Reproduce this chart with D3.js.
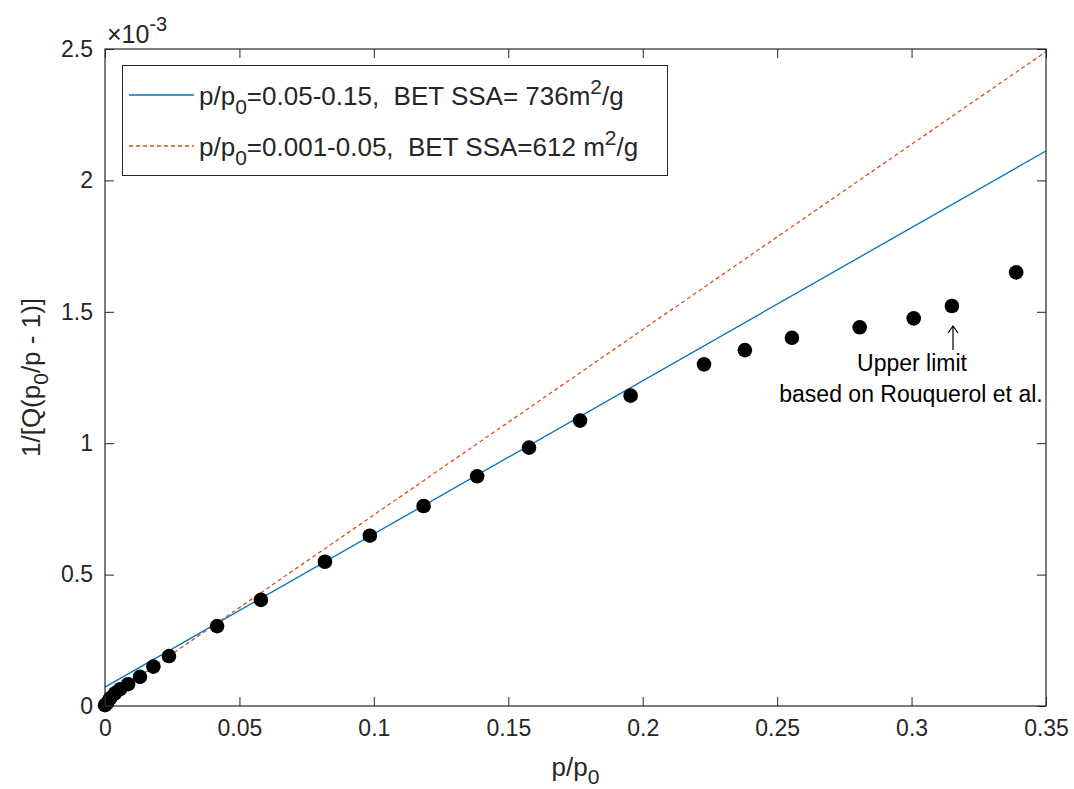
<!DOCTYPE html>
<html>
<head>
<meta charset="utf-8">
<script src="https://cdn.jsdelivr.net/npm/d3@7/dist/d3.min.js"></script>
<style>
  html, body { margin: 0; padding: 0; background: #fff; }
  svg text { font-family: "Liberation Sans", Arial, Helvetica, sans-serif; fill: #262626; }
</style>
</head>
<body>
<svg id="chart" width="1074" height="789"></svg>
<script>
// Relative pressure p/p0 of the measured points
const pressure = [0, 0.0008, 0.0019, 0.0037, 0.0056, 0.0086, 0.013, 0.018, 0.0238,
  0.0417, 0.058, 0.0818, 0.0985, 0.1185, 0.1384, 0.1577, 0.1767, 0.1955,
  0.2228, 0.2380, 0.2555, 0.2807, 0.3008, 0.3150, 0.3389];
// BET transform 1/[Q(p0/p - 1)], in units of 1e-3
const betValue = [0.003, 0.012, 0.029, 0.048, 0.064, 0.083, 0.111, 0.150, 0.190,
  0.304, 0.404, 0.549, 0.648, 0.761, 0.874, 0.983, 1.086, 1.181,
  1.300, 1.354, 1.401, 1.441, 1.475, 1.522, 1.650];

// Linear fits, evaluated at the ends of the x range
const fitPressure = [0, 0.35];
const fitHigh = [0.072, 2.112];   // p/p0 = 0.05-0.15
const fitLow = [0.022, 2.490];    // p/p0 = 0.001-0.05

const xTicks = [0, 0.05, 0.1, 0.15, 0.2, 0.25, 0.3, 0.35];
const xTickLabels = ["0", "0.05", "0.1", "0.15", "0.2", "0.25", "0.3", "0.35"];
const yTicks = [0, 0.5, 1, 1.5, 2, 2.5];
const yTickLabels = ["0", "0.5", "1", "1.5", "2", "2.5"];

const BLUE = "#0072BD", ORANGE = "#D95319", AX = "#262626";
const FS = 23;      // tick labels and annotation
const LFS = 26;     // legend entries

const svg = d3.select("#chart");
const pLeft = 105, pRight = 1046, pTop = 49, pBottom = 706;

const x = d3.scaleLinear().domain([0, 0.35]).range([pLeft, pRight]);
const y = d3.scaleLinear().domain([0, 2.5]).range([pBottom, pTop]);

// Data layer
const plot = svg.append("g");

const line = d3.line().x(d => x(d[0])).y(d => y(d[1]));
plot.append("path")
  .datum(fitPressure.map((p, i) => [p, fitHigh[i]]))
  .attr("d", line).attr("fill", "none")
  .attr("stroke", BLUE).attr("stroke-width", 1.3);
plot.append("path")
  .datum(fitPressure.map((p, i) => [p, fitLow[i]]))
  .attr("d", line).attr("fill", "none")
  .attr("stroke", ORANGE).attr("stroke-width", 1.3)
  .attr("stroke-dasharray", "4,3");

plot.selectAll("circle.pt")
  .data(pressure.map((p, i) => [p, betValue[i]]))
  .join("circle").attr("class", "pt")
  .attr("cx", d => x(d[0])).attr("cy", d => y(d[1]))
  .attr("r", 7.3).attr("fill", "#000");

// Axes box with inward ticks on all four sides
const tickLen = 9;
const axStyle = g => {
  g.select(".domain").remove();
  g.selectAll(".tick text").attr("fill", AX)
    .style("font-family", '"Liberation Sans", Arial, sans-serif')
    .style("font-size", FS + "px");
  g.selectAll(".tick line").attr("stroke", AX).attr("stroke-width", 1);
};

svg.append("g").attr("transform", `translate(0,${pBottom})`)
  .call(d3.axisBottom(x).tickValues(xTicks).tickSizeInner(-tickLen).tickSizeOuter(0)
    .tickPadding(14).tickFormat((d, i) => xTickLabels[i]))
  .call(axStyle)
  .call(g => g.selectAll(".tick text").attr("dy", "0.71em"));
svg.append("g").attr("transform", `translate(0,${pTop})`)
  .call(d3.axisTop(x).tickValues(xTicks).tickSizeInner(-tickLen).tickSizeOuter(0).tickFormat(""))
  .call(axStyle);
svg.append("g").attr("transform", `translate(${pLeft},0)`)
  .call(d3.axisLeft(y).tickValues(yTicks).tickSizeInner(-tickLen).tickSizeOuter(0)
    .tickPadding(12).tickFormat((d, i) => yTickLabels[i]))
  .call(axStyle);
svg.append("g").attr("transform", `translate(${pRight},0)`)
  .call(d3.axisRight(y).tickValues(yTicks).tickSizeInner(-tickLen).tickSizeOuter(0).tickFormat(""))
  .call(axStyle);

svg.append("rect")
  .attr("x", pLeft).attr("y", pTop)
  .attr("width", pRight - pLeft).attr("height", pBottom - pTop)
  .attr("fill", "none").attr("stroke", AX).attr("stroke-width", 1.2);

// Exponent label above the y axis
const expo = svg.append("text").attr("x", 107).attr("y", 43).style("font-size", "25px");
expo.append("tspan").text("\u00d710");
expo.append("tspan").attr("dy", -12).style("font-size", "20px").text("-3");

// Axis labels
const xl = svg.append("text").attr("x", (pLeft + pRight) / 2).attr("y", 776)
  .attr("text-anchor", "middle").style("font-size", "26px");
xl.append("tspan").text("p/p");
xl.append("tspan").attr("dy", 8).style("font-size", "21px").text("0");

const yl = svg.append("text")
  .attr("transform", `translate(40,${(pTop + pBottom) / 2}) rotate(-90)`)
  .attr("text-anchor", "middle").style("font-size", "26px");
yl.append("tspan").text("1/[Q(p");
yl.append("tspan").attr("dy", 8).style("font-size", "21px").text("0");
yl.append("tspan").attr("dy", -8).text("/p - 1)]");

// Legend
const lg = svg.append("g");
lg.append("rect").attr("x", 122.5).attr("y", 65.5).attr("width", 545).attr("height", 110)
  .attr("fill", "#fff").attr("stroke", AX).attr("stroke-width", 1);

const legendRows = [
  { color: BLUE, dash: null, y: 95, parts: [["p/p", 0], ["0", 1], ["=0.05-0.15,  BET SSA= 736m", 0], ["2", -1], ["/g", 0]] },
  { color: ORANGE, dash: "4,3", y: 146, parts: [["p/p", 0], ["0", 1], ["=0.001-0.05,  BET SSA=612 m", 0], ["2", -1], ["/g", 0]] }
];
legendRows.forEach(r => {
  lg.append("line").attr("x1", 129).attr("x2", 194).attr("y1", r.y).attr("y2", r.y)
    .attr("stroke", r.color).attr("stroke-width", 1.3)
    .attr("stroke-dasharray", r.dash);
  const t = lg.append("text").attr("x", 199).attr("y", r.y + 10).style("font-size", LFS + "px")
    .attr("xml:space", "preserve").style("white-space", "pre");
  let shift = 0;
  r.parts.forEach(([s, kind]) => {
    const target = kind === 1 ? 9 : kind === -1 ? -11 : 0;
    t.append("tspan").attr("dy", target - shift)
      .style("font-size", kind === 0 ? LFS + "px" : "21px").text(s);
    shift = target;
  });
});

// Annotation for the upper limit
const ax0 = 953;
svg.append("path")
  .attr("d", `M${ax0},350 L${ax0},326 M${ax0 - 5},333 L${ax0},326 L${ax0 + 5},333`)
  .attr("fill", "none").attr("stroke", "#000").attr("stroke-width", 1.2);
svg.append("text").attr("x", 912).attr("y", 371).attr("text-anchor", "middle")
  .style("font-size", FS + "px").style("fill", "#000").text("Upper limit");
svg.append("text").attr("x", 911).attr("y", 402).attr("text-anchor", "middle")
  .style("font-size", FS + "px").style("fill", "#000").text("based on Rouquerol et al.");
</script>
</body>
</html>
